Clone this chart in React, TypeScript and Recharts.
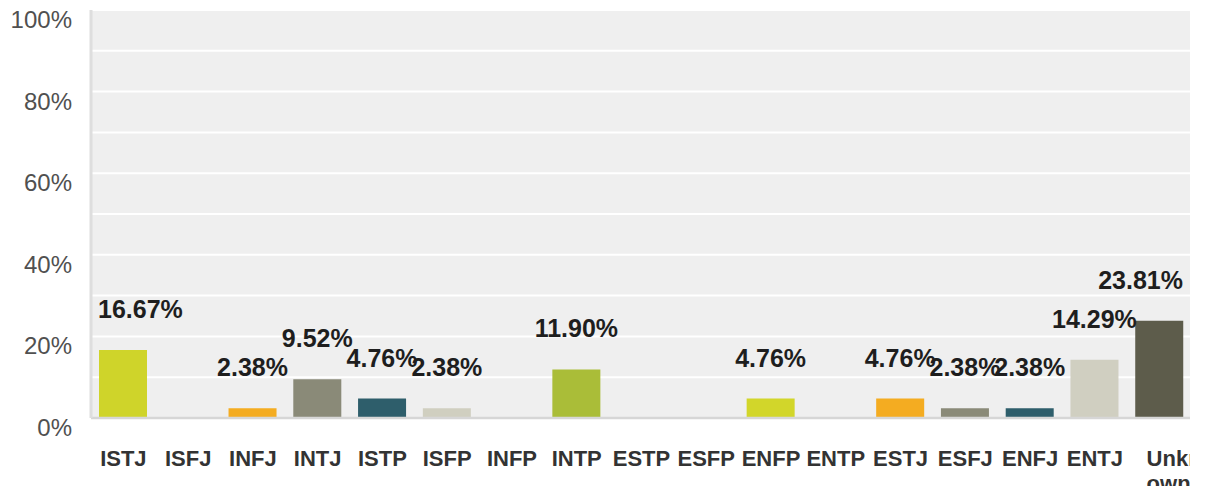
import React from 'react';
import { BarChart, Bar, XAxis, YAxis, CartesianGrid, Cell, LabelList } from 'recharts';

const categories = ['ISTJ', 'ISFJ', 'INFJ', 'INTJ', 'ISTP', 'ISFP', 'INFP', 'INTP', 'ESTP', 'ESFP', 'ENFP', 'ENTP', 'ESTJ', 'ESFJ', 'ENFJ', 'ENTJ', 'Unknown'];
const values = [16.67, 0, 2.38, 9.52, 4.76, 2.38, 0, 11.9, 0, 0, 4.76, 0, 4.76, 2.38, 2.38, 14.29, 23.81];
const colors = ['#cfd42a', '#cfd42a', '#f4ac21', '#8a8a78', '#2e5e6b', '#d0cfc0', '#d0cfc0', '#aabd38', '#aabd38', '#aabd38', '#d2d62a', '#d2d62a', '#f4ac21', '#8a8a78', '#2e5e6b', '#d0cfc1', '#5d5c4b'];
const yTicks = [0, 10, 20, 30, 40, 50, 60, 70, 80, 90, 100];
const yLabelTicks = [0, 20, 40, 60, 80, 100];

const data = categories.map((c, i) => ({ name: c, value: values[i] }));

const FONT = '"Liberation Sans", Arial, sans-serif';
const PLOT_LEFT = 83;
const PLOT_RIGHT = 1184;

const charW: Record<string, number> = { '.': 0.278, '%': 0.889 };
const textWidth = (s: string, size: number) =>
  s.split('').reduce((a, ch) => a + (charW[ch] ?? 0.556), 0) * size;

const YTick = (props: any) => {
  const { y, payload } = props;
  if (!yLabelTicks.includes(payload.value)) return null;
  return (
    <text x={64} y={y + 18} textAnchor="end" fontFamily={FONT} fontSize={24} fill="#505050">
      {payload.value + '%'}
    </text>
  );
};

const XTick = (props: any) => {
  const { x, y, payload } = props;
  if (payload.value === 'Unknown') {
    return (
      <text x={x - 13} y={y + 48} textAnchor="start" fontFamily={FONT} fontSize={22} fontWeight="bold" fill="#333">
        <tspan x={x - 13} y={y + 48}>Unkn</tspan>
        <tspan x={x - 13} y={y + 73}>own</tspan>
      </text>
    );
  }
  return (
    <text x={x} y={y + 48} textAnchor="middle" fontFamily={FONT} fontSize={22} fontWeight="bold" fill="#333">
      {payload.value}
    </text>
  );
};

const ValueLabel = (props: any) => {
  const { x, y, width, value } = props;
  if (!value) return null;
  const txt = Number(value).toFixed(2) + '%';
  const size = 25;
  const w = textWidth(txt, size);
  const cx = Number(x) + Number(width) / 2;
  let anchor: 'middle' | 'start' | 'end' = 'middle';
  let tx = cx;
  if (cx - w / 2 < PLOT_LEFT + 7) {
    anchor = 'start';
    tx = PLOT_LEFT + 7;
  } else if (cx + w / 2 > PLOT_RIGHT - 9) {
    anchor = 'end';
    tx = PLOT_RIGHT - 9;
  }
  return (
    <text x={tx} y={Number(y) - 32} textAnchor={anchor} fontFamily={FONT} fontSize={size} fontWeight="bold" fill="#1e1e1e">
      {txt}
    </text>
  );
};

export default function App() {
  return (
    <div style={{ width: 1182, height: 486, overflow: 'hidden', marginBottom: -8 }}>
      <BarChart width={1184} height={486} data={data} margin={{ top: 2, right: 0, left: 0, bottom: 0 }}>
        <CartesianGrid vertical={false} horizontal={true} fill="#efefef" stroke="#ffffff" strokeWidth={2} />
        <XAxis
          dataKey="name"
          interval={0}
          height={76}
          tickLine={false}
          tickSize={0}
          tickMargin={0}
          axisLine={{ stroke: '#d6d6d6', strokeWidth: 2.5 }}
          tick={<XTick />}
        />
        <YAxis
          width={83}
          domain={[0, 100]}
          ticks={yTicks}
          interval={0}
          tickLine={false}
          axisLine={{ stroke: '#dedede', strokeWidth: 3 }}
          tick={<YTick />}
        />
        <Bar dataKey="value" barSize={48} isAnimationActive={false}>
          {data.map((d, i) => (
            <Cell key={d.name} fill={colors[i]} />
          ))}
          <LabelList dataKey="value" content={<ValueLabel />} />
        </Bar>
      </BarChart>
    </div>
  );
}
